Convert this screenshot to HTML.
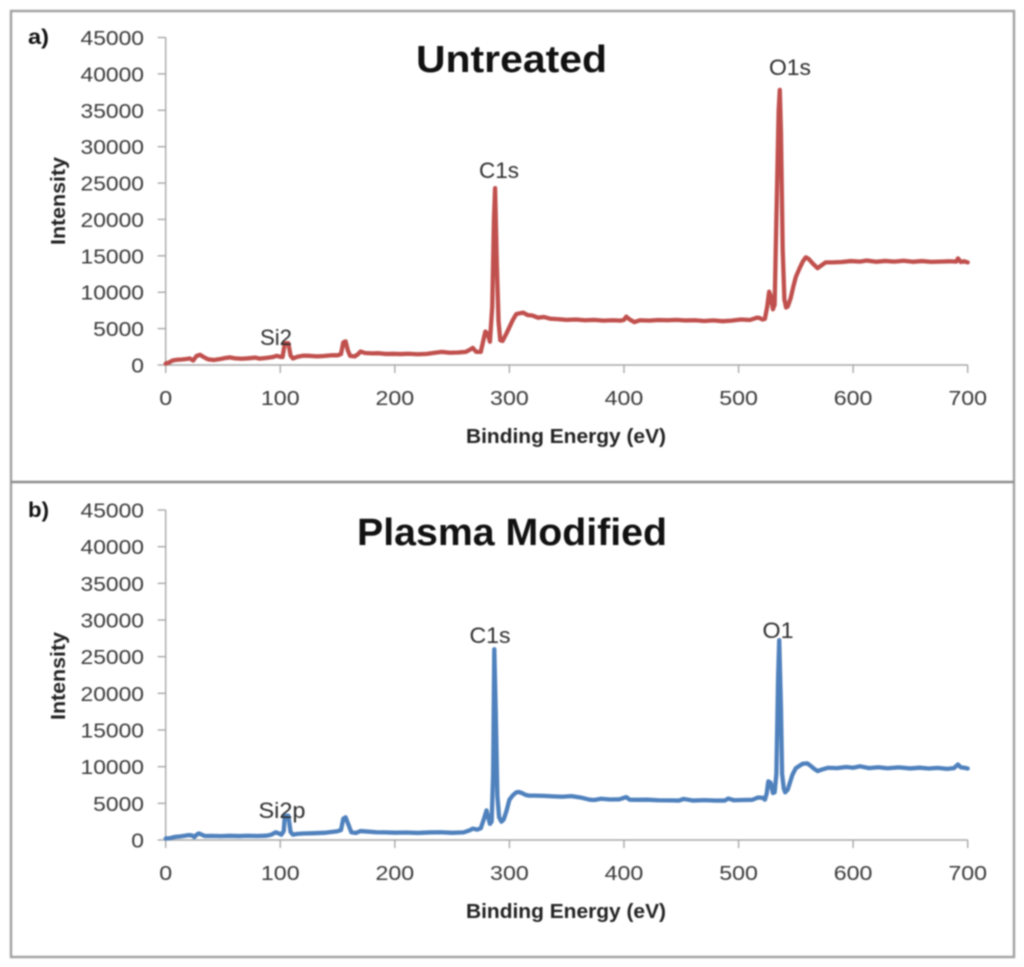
<!DOCTYPE html>
<html lang="en">
<head>
<meta charset="utf-8">
<title>XPS survey spectra: untreated and plasma modified</title>
<style>
  html, body { margin: 0; padding: 0; background: #fff; }
  #figure { display: block; width: 1024px; height: 967px; filter: blur(0.7px); }
  text { font-family: "Liberation Sans", sans-serif; }
</style>
</head>
<body>
<svg id="figure" xmlns="http://www.w3.org/2000/svg" width="1024" height="967" viewBox="0 0 1024 967">
  <rect x="0" y="0" width="1024" height="967" fill="#ffffff"/>
  <rect x="11" y="11" width="1003" height="946" fill="none" stroke="#a2a2a2" stroke-width="2.4"/>
  <line x1="11" y1="482" x2="1014" y2="482" stroke="#8e8e8e" stroke-width="2.6"/>
  <g id="panel-a"></g>
  <g id="panel-b"></g>
</svg>
<script>
const xTicks = [0, 100, 200, 300, 400, 500, 600, 700];
const yTicks = [0, 5000, 10000, 15000, 20000, 25000, 30000, 35000, 40000, 45000];

const energyA = [
  0, 3, 6, 10, 14, 18, 21, 24, 27, 30, 33, 37, 42, 47, 52, 56, 60, 66, 72, 78,
  82, 88, 93, 97, 100, 102, 104, 107, 109, 111, 115, 120, 126, 132, 138, 145, 150, 153, 155, 157,
  159, 161, 165, 168, 170, 174, 180, 186, 192, 198, 205, 212, 220, 228, 235, 241, 248, 255, 262, 266,
  268, 271, 275, 277, 279, 281, 283, 285, 286.5, 287.5, 289, 290.5, 292, 294, 297, 300, 303, 306, 309, 312,
  316, 320, 325, 330, 336, 342, 350, 358, 366, 374, 382, 390, 397, 400, 402, 405, 409, 414, 422, 430,
  438, 446, 454, 462, 470, 478, 486, 494, 502, 510, 516, 518, 521, 523, 525, 526.7, 528, 530, 531.5, 533,
  535, 536, 537, 538.5, 540, 541.5, 543, 545.5, 548, 550, 553, 556, 558.7, 561, 565, 569, 572, 576,
  582, 590, 598, 606, 612, 620, 628, 636, 644, 652, 660, 668, 676, 684, 690, 691.5, 694, 697, 700
];
const intensityA = [
  200, 350, 620, 720, 760, 830, 900, 620, 1250, 1400, 1100, 780, 680, 800, 960, 1040, 930, 860, 920, 1020,
  880, 980, 1080, 1260, 1120, 1100, 3000, 3000, 1300, 900, 1130, 1280, 1260, 1180, 1240, 1340, 1330, 1500, 3100, 3250,
  2000, 1250, 1180, 1500, 1850, 1650, 1600, 1620, 1520, 1540, 1500, 1550, 1480, 1530, 1680, 1800, 1680, 1720, 1800, 2150,
  2350, 1800, 1800, 3200, 4600, 4300, 3200, 8000, 20000, 24300, 14000, 6000, 3400, 3300, 4200, 5200, 6200, 7000, 7100, 7200,
  6850, 6800, 6500, 6600, 6350, 6300, 6200, 6250, 6150, 6200, 6100, 6150, 6100, 6200, 6640, 6250, 5900, 6150, 6100, 6180,
  6150, 6200, 6120, 6150, 6050, 6130, 6020, 6100, 6250, 6180, 6500, 6480, 6250, 6350, 8000, 10080, 9500, 7650, 8300, 20000,
  35000, 37800, 32000, 16000, 9000, 7900, 8050, 9200, 10900, 12100, 13200, 14200, 14800, 14600, 13900, 13300, 13650, 14100,
  14100, 14150, 14280, 14200, 14350, 14180, 14300, 14200, 14330, 14180, 14280, 14170, 14200, 14250, 14200, 14650, 14150, 14250, 14100
];

const energyB = [
  0, 4, 8, 12, 16, 20, 23, 25, 27, 29, 31, 34, 40, 48, 56, 64, 72, 80, 88, 92,
  96, 99, 101, 103, 104, 107, 109, 111, 115, 120, 130, 140, 150, 153, 155, 157, 159, 162, 166, 170,
  176, 184, 192, 200, 210, 220, 230, 240, 250, 260, 265, 268, 272, 275, 278, 280, 281.5, 283, 284.5, 285.8,
  286.8, 288, 289.5, 291, 293, 295, 297.5, 300, 303, 306, 308, 311, 314, 317, 322, 330, 338, 346, 354, 362,
  370, 374, 380, 388, 396, 402, 405, 412, 420, 430, 440, 448, 452, 460, 470, 480, 488, 491, 496, 504,
  512, 517, 521, 523, 524.5, 526, 528, 530, 531.5, 533, 534.5, 535.5, 537, 538, 539.5, 540.7, 543, 547, 550, 553,
  556, 560, 563, 566, 569, 573, 578, 586, 594, 600, 606, 614, 622, 630, 640, 650, 658, 666, 674, 682,
  688, 691.5, 694, 697, 700
];
const intensityB = [
  200, 260, 420, 480, 560, 660, 620, 400, 720, 900, 760, 550, 560, 530, 570, 540, 580, 550, 590, 720,
  1050, 880, 720, 1200, 3300, 3300, 1100, 730, 830, 890, 930, 1000, 1200, 1350, 2900, 3100, 2300, 1050, 960, 1220,
  1150, 1060, 1040, 1000, 1020, 960, 1030, 1060, 980, 1040, 1300, 1550, 1420, 1600, 3000, 4030, 3100, 2200, 2500, 9000,
  26000, 18000, 6000, 3100, 2500, 2800, 4000, 5500, 6100, 6500, 6550, 6400, 6150, 6050, 6050, 6020, 5950, 5900, 5980, 5800,
  5500, 5450, 5620, 5520, 5550, 5850, 5500, 5480, 5500, 5420, 5400, 5380, 5600, 5380, 5440, 5380, 5380, 5650, 5420, 5450,
  5480, 5800, 5750, 5500, 6300, 8000, 7800, 6400, 6500, 9000, 22000, 27250, 18000, 9000, 7000, 6500, 6900, 8900, 9800, 10100,
  10400, 10450, 10100, 9700, 9400, 9620, 9850, 9800, 9950, 9850, 10050, 9800, 9920, 9780, 9900, 9760, 9860, 9750, 9840, 9700,
  9800, 10300, 9900, 9850, 9750
];

const SVG_NS = "http://www.w3.org/2000/svg";

function makeX(left, right) {
  return function (energy) { return left + (energy / 700) * (right - left); };
}
function makeY(zeroY, topY) {
  return function (value) { return zeroY + (value / 45000) * (topY - zeroY); };
}
function addText(parent, content, x, y, size, weight, fill, anchor, length) {
  const el = document.createElementNS(SVG_NS, "text");
  el.textContent = content;
  el.setAttribute("x", x);
  el.setAttribute("y", y);
  el.setAttribute("font-size", size);
  el.setAttribute("font-weight", weight);
  el.setAttribute("fill", fill);
  el.setAttribute("text-anchor", anchor);
  if (length) {
    el.setAttribute("textLength", length);
    el.setAttribute("lengthAdjust", "spacingAndGlyphs");
  }
  parent.appendChild(el);
  return el;
}
function addLine(parent, x1, y1, x2, y2) {
  const el = document.createElementNS(SVG_NS, "line");
  el.setAttribute("x1", x1);
  el.setAttribute("y1", y1);
  el.setAttribute("x2", x2);
  el.setAttribute("y2", y2);
  el.setAttribute("stroke", "#a8a8a8");
  el.setAttribute("stroke-width", "1.4");
  parent.appendChild(el);
  return el;
}

function drawPanel(cfg) {
  const g = document.getElementById(cfg.id);
  const x = makeX(165.7, 967.7);
  const y = makeY(cfg.zeroY, cfg.topY);

  const axisY = addLine(g, x(0), y(0), x(0), y(45000));
  
  
  const axisX = addLine(g, x(0), y(0), x(700), y(0));
  
  

  yTicks.forEach(function (t) {
    const tick = addLine(g, x(0) - 8, y(t), x(0), y(t));
    
    
    const label = addText(g, String(t), 144, y(t) + 7.5, 20.5, 400, "#3a3a3a", "end", String(t).length * 12.7);
    
    
  });
  xTicks.forEach(function (t) {
    const tick = addLine(g, x(t), y(0), x(t), y(0) + 8);
    
    
    const label = addText(g, String(t), x(t), y(0) + 40, 20.5, 400, "#3a3a3a", "middle", String(t).length * 12.9);
    
    
  });

  const path = document.createElementNS(SVG_NS, "path");
  
  
  path.setAttribute("d", cfg.energy.map(function (e, i) {
    return (i ? "L" : "M") + x(e).toFixed(2) + " " + y(cfg.intensity[i]).toFixed(2);
  }).join(" "));
  path.setAttribute("fill", "none");
  path.setAttribute("stroke", cfg.color);
  path.setAttribute("stroke-width", "4.3");
  path.setAttribute("stroke-linejoin", "round");
  path.setAttribute("stroke-linecap", "round");
  g.appendChild(path);

  const title = addText(g, cfg.title, cfg.titleX, cfg.titleY, 38, 700, "#111111", "start", cfg.titleLen);
  
  

  const letter = addText(g, cfg.letter, 28, cfg.letterY, 21, 700, "#111111", "start", 21);
  
  

  const xTitle = addText(g, "Binding Energy (eV)", 466, y(0) + 78, 20, 700, "#222222", "start", 200);
  
  

  const yTitle = addText(g, "Intensity", 0, 0, 20, 700, "#222222", "start", 88);
  yTitle.setAttribute("transform", "translate(65 " + (y(0) - 120) + ") rotate(-90)");
  
  

  cfg.peakLabels.forEach(function (p) {
    const peak = addText(g, p.text, p.x, p.y, 22, 400, "#2e2e2e", "middle", p.len);
    
    
  });
}

drawPanel({
  id: "panel-a", zeroY: 365, topY: 37.5, color: "#c0504d",
  energy: energyA, intensity: intensityA,
  title: "Untreated", titleX: 416, titleY: 72, titleLen: 191,
  letter: "a)", letterY: 44,
  peakLabels: [
    { text: "Si2", x: 276, y: 345, len: 32 },
    { text: "C1s", x: 499, y: 178, len: 40 },
    { text: "O1s", x: 790, y: 75, len: 42 }
  ]
});
drawPanel({
  id: "panel-b", zeroY: 840, topY: 510, color: "#4f81bd",
  energy: energyB, intensity: intensityB,
  title: "Plasma Modified", titleX: 357, titleY: 545, titleLen: 310,
  letter: "b)", letterY: 517,
  peakLabels: [
    { text: "Si2p", x: 282, y: 818, len: 47 },
    { text: "C1s", x: 490, y: 643, len: 41 },
    { text: "O1", x: 778, y: 638, len: 31 }
  ]
});
</script>
</body>
</html>
